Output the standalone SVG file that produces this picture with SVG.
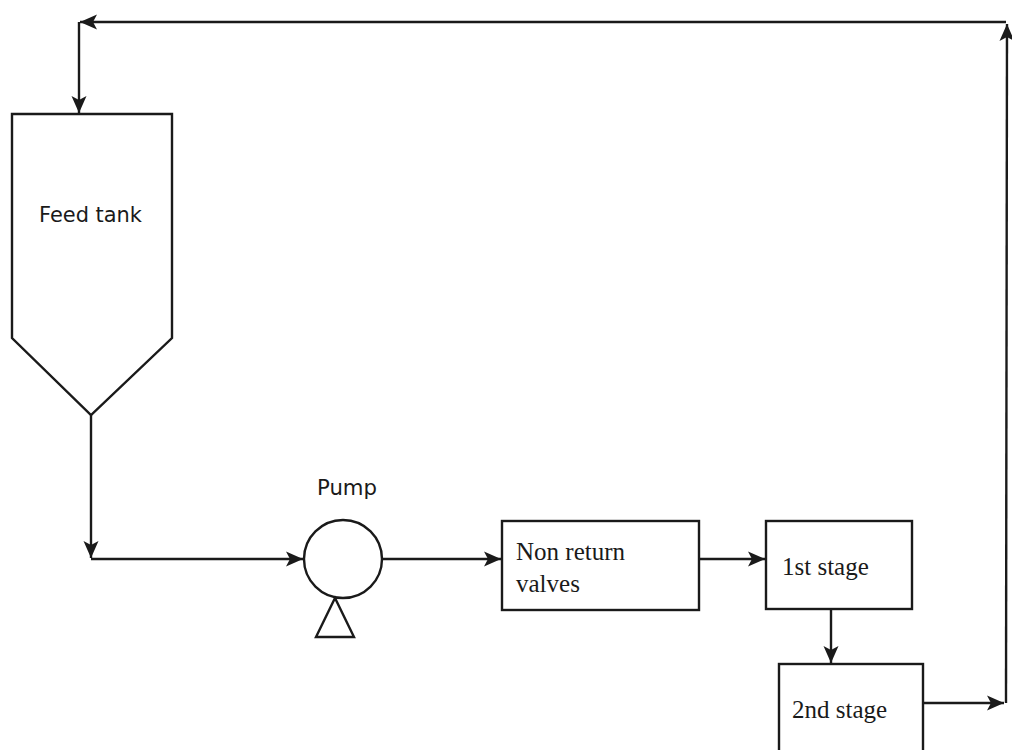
<svg xmlns="http://www.w3.org/2000/svg" width="1012" height="750" viewBox="0 0 1012 750">
<style>
.ln{fill:none;stroke:#1a1a1a;stroke-width:2.4;stroke-linejoin:miter}
.bx{fill:#fff;stroke:#1a1a1a;stroke-width:2.4}
.ts{font-family:"Liberation Serif","Times New Roman",serif;font-size:25px;fill:#1a1a1a}
.tn{font-family:"DejaVu Sans","Liberation Sans",sans-serif;font-size:21px;fill:#1a1a1a}
</style>
<defs>
<marker id="ah" viewBox="-18 -9 19 18" refX="0" refY="0" markerWidth="19" markerHeight="18" markerUnits="userSpaceOnUse" orient="auto">
<path d="M0,0 L-17,-7.5 L-13,0 L-17,7.5 z" fill="#1a1a1a"/>
</marker>
</defs>
<rect width="1012" height="750" fill="#fff"/>
<g id="connectors">
<path class="ln" d="M1006,22 L80,22" marker-end="url(#ah)"/>
<path class="ln" d="M79,22 L79,113" marker-end="url(#ah)"/>
<path class="ln" d="M91,415 L91,558" marker-end="url(#ah)"/>
<path class="ln" d="M91,559 L303,559" marker-end="url(#ah)"/>
<path class="ln" d="M382,559 L501,559" marker-end="url(#ah)"/>
<path class="ln" d="M699,559 L765,559" marker-end="url(#ah)"/>
<path class="ln" d="M831,609 L831,663" marker-end="url(#ah)"/>
<path class="ln" d="M923,703 L1004,703" marker-end="url(#ah)"/>
<path class="ln" d="M1006,703 L1007,24" marker-end="url(#ah)"/>
</g>
<g id="feed-tank">
<path class="bx" d="M12,114 L172,114 L172,338 L91,415 L12,338 Z"/>
<text class="tn" x="39" y="222" textLength="103" lengthAdjust="spacingAndGlyphs">Feed tank</text>
</g>
<g id="pump">
<circle class="bx" cx="343" cy="559" r="39"/>
<path class="bx" d="M335,598 L316,637 L354,637 Z"/>
<text class="tn" x="317" y="495" textLength="60" lengthAdjust="spacingAndGlyphs">Pump</text>
</g>
<g id="non-return-valves">
<rect class="bx" x="502" y="521" width="197" height="89"/>
<text class="ts" x="516" y="560">Non return</text>
<text class="ts" x="516" y="592">valves</text>
</g>
<g id="stage1">
<rect class="bx" x="766" y="521" width="146" height="88"/>
<text class="ts" x="782" y="575">1st stage</text>
</g>
<g id="stage2">
<rect class="bx" x="779" y="664" width="144" height="100"/>
<text class="ts" x="792" y="718">2nd stage</text>
</g>
</svg>
